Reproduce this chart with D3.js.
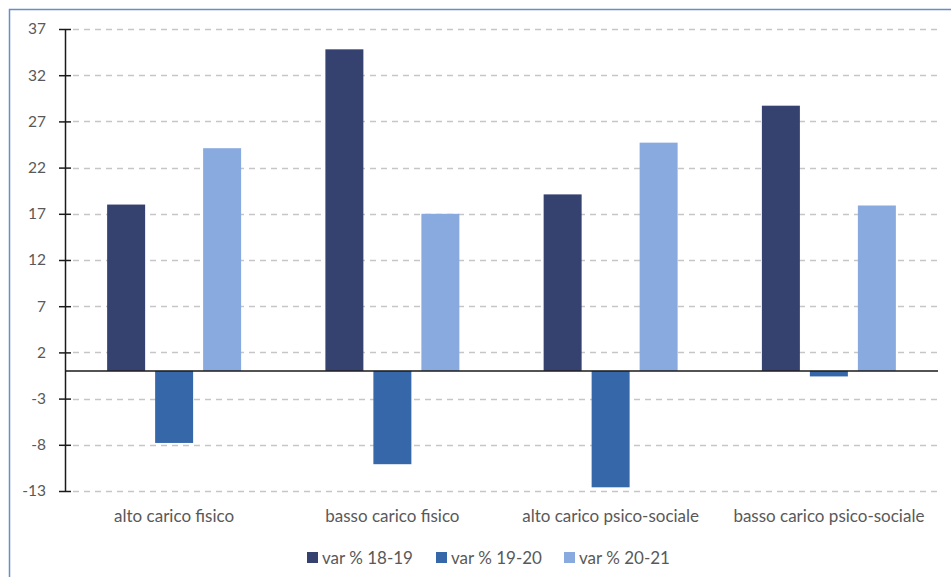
<!DOCTYPE html>
<html>
<head>
<meta charset="utf-8">
<script src="https://cdn.jsdelivr.net/npm/d3@7"></script>
<style>
  html, body { margin: 0; padding: 0; background: #fff; }
  svg { display: block; }
  text { font-family: Lato, "Open Sans", sans-serif; fill: #595959; }
</style>
</head>
<body>
<svg id="chart" width="951" height="577"></svg>
<script>
// Categories and series (variazione percentuale)
const categories = ["alto carico fisico", "basso carico fisico", "alto carico psico-sociale", "basso carico psico-sociale"];
const seriesNames = ["var % 18-19", "var % 19-20", "var % 20-21"];
const var1819 = [18.0, 34.8, 19.1, 28.7];
const var1920 = [-7.8, -10.1, -12.6, -0.6];
const var2021 = [24.1, 17.0, 24.7, 17.9];
const yTicks = [-13, -8, -3, 2, 7, 12, 17, 22, 27, 32, 37];
const colors = ["#35416f", "#3668a9", "#88aadf"];

const seriesValues = [var1819, var1920, var2021];

const svg = d3.select("#chart");
const plotLeft = 65, plotRight = 938, plotTop = 29, plotBottom = 491;

// outer frame
svg.append("rect")
  .attr("x", 9.5).attr("y", 9.5)
  .attr("width", 960).attr("height", 600)
  .attr("fill", "none")
  .attr("stroke", "#6a8cc7")
  .attr("stroke-width", 1.5);

const y = d3.scaleLinear().domain([-13, 37]).range([plotBottom, plotTop]);
const x0 = d3.scaleBand().domain(categories).range([plotLeft, plotRight]);
const x1 = d3.scaleBand().domain(seriesNames)
  .range([0, x0.bandwidth()])
  .paddingInner(10 / 48)
  .paddingOuter(0.878);

// dashed gridlines
svg.append("g")
  .selectAll("line")
  .data(yTicks)
  .join("line")
  .attr("x1", plotLeft + 8).attr("x2", plotRight)
  .attr("y1", d => Math.round(y(d)) + 0.5)
  .attr("y2", d => Math.round(y(d)) + 0.5)
  .attr("stroke", "#c6c6c6")
  .attr("stroke-width", 1.5)
  .attr("stroke-dasharray", "6,5");

// bars
const groups = svg.append("g")
  .selectAll("g")
  .data(categories)
  .join("g")
  .attr("transform", d => `translate(${x0(d)},0)`);

groups.selectAll("rect")
  .data((c, i) => seriesNames.map((s, k) => ({ s, k, v: seriesValues[k][i] })))
  .join("rect")
  .attr("x", d => x1(d.s))
  .attr("width", x1.bandwidth())
  .attr("y", d => y(Math.max(0, d.v)))
  .attr("height", d => Math.abs(y(d.v) - y(0)))
  .attr("fill", d => colors[d.k]);

// zero line
svg.append("line")
  .attr("x1", plotLeft).attr("x2", plotRight)
  .attr("y1", y(0)).attr("y2", y(0))
  .attr("stroke", "#1a1a1a")
  .attr("stroke-width", 1.5);

// y axis with crossing ticks; labels use a plain hyphen for negatives
const yAxis = d3.axisLeft(y)
  .tickValues(yTicks)
  .tickSizeInner(6)
  .tickSizeOuter(0)
  .tickPadding(13)
  .tickFormat(d => String(d));

const ag = svg.append("g")
  .attr("transform", `translate(${plotLeft},0)`)
  .call(yAxis);
ag.select(".domain").attr("stroke", "#1a1a1a").attr("stroke-width", 1.5);
ag.selectAll(".tick line")
  .attr("x1", -6).attr("x2", 6)
  .attr("stroke", "#1a1a1a").attr("stroke-width", 1.5);
ag.selectAll(".tick text")
  .attr("font-size", 15.5)
  .attr("fill", "#595959")
  .style("font-family", "Lato, 'Open Sans', sans-serif");

// category labels
svg.append("g")
  .selectAll("text")
  .data(categories)
  .join("text")
  .attr("x", d => x0(d) + x0.bandwidth() / 2)
  .attr("y", 522)
  .attr("text-anchor", "middle")
  .attr("font-size", 17)
  .text(d => d);

// legend
const legendX = [307, 436, 564];
const leg = svg.append("g")
  .selectAll("g")
  .data(seriesNames)
  .join("g")
  .attr("transform", (d, i) => `translate(${legendX[i]},552)`);
leg.append("rect")
  .attr("width", 11).attr("height", 11)
  .attr("fill", (d, i) => colors[i]);
leg.append("text")
  .attr("x", 15).attr("y", 12)
  .attr("font-size", 17)
  .text(d => d);
</script>
</body>
</html>
